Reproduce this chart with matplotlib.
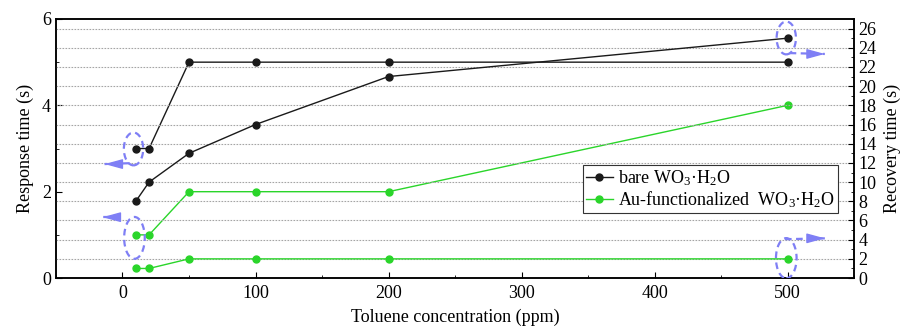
import matplotlib
matplotlib.use("Agg")
import matplotlib.pyplot as plt
from matplotlib.patches import Ellipse
from matplotlib.ticker import MultipleLocator

plt.rcParams['font.family'] = ['Liberation Serif', 'DejaVu Serif']
plt.rcParams['mathtext.fontset'] = 'custom'
plt.rcParams['mathtext.rm'] = 'Liberation Serif'
plt.rcParams['mathtext.it'] = 'Liberation Serif:italic'

# ---- data ----
concentration = [10, 20, 50, 100, 200, 500]
bare_response = [3, 3, 5, 5, 5, 5]
bare_recovery = [8, 10, 13, 16, 21, 25]
au_response = [1, 1, 2, 2, 2, 4]
au_recovery = [1, 1, 2, 2, 2, 2]
x_ticks = [0, 100, 200, 300, 400, 500]
left_ticks = [0, 2, 4, 6]
right_ticks = list(range(0, 27, 2))
label_bare = 'bare WO$_3$·H$_2$O'
label_au = 'Au-functionalized  WO$_3$·H$_2$O'

BLACK = '#1a1a1a'
GREEN = '#2ad52a'
ANN = '#7f7ff5'
FS = 13

fig = plt.figure(figsize=(9.07, 3.33), dpi=100)
ax = fig.add_axes([0.0617, 0.165, 0.88, 0.778])
ax2 = ax.twinx()

ax.set_xlim(-50, 550)
ax.set_ylim(0, 6)
ax2.set_ylim(0, 27)

# grid from right axis
for v in right_ticks[1:]:
    ax2.axhline(v, color='#a5a5a5', lw=0.8, ls=(0, (1.5, 1.2)), zorder=0)

ax.plot(concentration, bare_response, '-o', color=BLACK, lw=1.0, ms=5, zorder=3)
ax.plot(concentration, au_response, '-o', color=GREEN, lw=1.0, ms=5, zorder=3)
l1, = ax2.plot(concentration, bare_recovery, '-o', color=BLACK, lw=1.0, ms=5, zorder=3)
l2, = ax2.plot(concentration, au_recovery, '-o', color=GREEN, lw=1.0, ms=5, zorder=3)

ax.set_xticks(x_ticks)
ax.xaxis.set_minor_locator(MultipleLocator(50))
ax.set_yticks(left_ticks)
ax.yaxis.set_minor_locator(MultipleLocator(1))
ax2.set_yticks(right_ticks)
ax2.yaxis.set_minor_locator(MultipleLocator(1))

for a in (ax, ax2):
    a.tick_params(which='major', direction='in', length=4, width=0.8, labelsize=FS)
    a.tick_params(which='minor', direction='in', length=2, width=0.6)
    for s in a.spines.values():
        s.set_linewidth(1.1)
ax.tick_params(axis='y', right=False)
ax.tick_params(axis='x', top=False, which='both')
ax.tick_params(axis='x', pad=5)
ax2.tick_params(axis='y', pad=3)

ax.set_xlabel('Toluene concentration (ppm)', fontsize=FS, labelpad=5)
ax.set_ylabel('Response time (s)', fontsize=FS, labelpad=6)
ax2.set_ylabel('Recovery time (s)', fontsize=FS, labelpad=5)

# annotation ellipses (right-axis data coords = left * 4.5)
ells = [(8.3, 2.99 * 4.5, 14.5, 0.76 * 4.5),
        (9.0, 0.93 * 4.5, 15.5, 0.97 * 4.5),
        (499, 5.56 * 4.5, 14.5, 0.76 * 4.5),
        (499, 0.46 * 4.5, 15.5, 0.93 * 4.5)]
for cx, cy, w, h in ells:
    ax2.add_patch(Ellipse((cx, cy), w, h, fill=False, ec=ANN, lw=1.6,
                          ls=(0, (3, 2)), zorder=5))

arrows = [((5.3, 2.66), (-13.5, 2.64)),
          ((-0.75, 1.41), (-15, 1.41)),
          ((501.5, 5.21), (528, 5.19)),
          ((498, 0.90), (528, 0.92))]
for (x0, y0), (x1, y1) in arrows:
    ax2.plot([x0, x1], [y0 * 4.5, y1 * 4.5], color=ANN, lw=1.6,
             ls=(0, (3, 2)), zorder=5)
    dx = -10 if x1 < x0 else 10
    ax2.annotate('', xy=(x1, y1 * 4.5), xytext=(x1 - dx, y1 * 4.5),
                 arrowprops=dict(arrowstyle='-|>,head_length=1.1,head_width=0.3',
                                 color=ANN, lw=1.0, shrinkA=0, shrinkB=0),
                 zorder=6)

leg = ax2.legend([l1, l2], [label_bare, label_au], loc='lower right',
                 bbox_to_anchor=(0.98, 0.251), borderaxespad=0, fontsize=FS,
                 fancybox=False, edgecolor='#333333', framealpha=1,
                 handlelength=1.5, handletextpad=0.3, borderpad=0.15,
                 labelspacing=0.1)
leg.get_frame().set_linewidth(0.8)
leg.set_zorder(7)

fig.savefig('out.png', dpi=100)
